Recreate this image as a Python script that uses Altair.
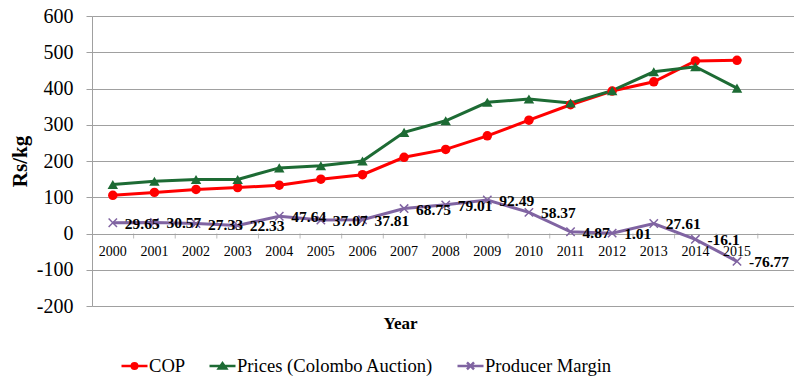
import altair as alt
import pandas as pd

years = list(range(2000, 2016))
series_names = ["COP", "Prices (Colombo Auction)", "Producer Margin"]
cop = [105.35, 113.43, 121.67, 126.67, 133.36, 149.93, 162.19, 210.25,
       231.99, 269.51, 312.63, 355.13, 392.99, 418.39, 476.1, 477.77]
prices = [135, 144, 149, 149, 181, 187, 200, 279,
          311, 362, 371, 360, 394, 446, 460, 401]
margin = [29.65, 30.57, 27.33, 22.33, 47.64, 37.07, 37.81, 68.75,
          79.01, 92.49, 58.37, 4.87, 1.01, 27.61, -16.1, -76.77]
margin_labels = ["29.65", "30.57", "27.33", "22.33", "47.64", "37.07", "37.81", "68.75",
                 "79.01", "92.49", "58.37", "4.87", "1.01", "27.61", "-16.1", "-76.77"]
y_ticks = [-200, -100, 0, 100, 200, 300, 400, 500, 600]

colors = ["#ff0000", "#1d6b34", "#8064a2"]
FONT = "Liberation Serif"
GRID = "#a0a0a0"

rows = []
for name, vals in zip(series_names, [cop, prices, margin]):
    for yr, v in zip(years, vals):
        rows.append({"year": yr, "series": name, "value": v})
df = pd.DataFrame(rows)
lab_df = pd.DataFrame({"year": years, "value": margin, "label": margin_labels})
yr_df = pd.DataFrame({"year": years})

xscale = alt.Scale(domain=[1999.5, 2016.37], nice=False, zero=False)
yscale = alt.Scale(domain=[-200, 600], nice=False)

xaxis = alt.Axis(title="Year", labels=False, ticks=False, domain=False, grid=False,
                 titleFont=FONT, titleFontSize=17, titleFontWeight="bold",
                 titleColor="black", titleX=308, titleY=17, titleBaseline="middle")
yaxis = alt.Axis(values=y_ticks, title="Rs/kg", grid=True, gridColor=GRID,
                 domainColor=GRID, tickColor=GRID, tickSize=6, labelOverlap=False,
                 labelExpr="'' + datum.value",
                 labelFont=FONT, labelFontSize=20, labelColor="black",
                 labelPadding=13, titleFont=FONT, titleFontSize=21,
                 titleFontWeight="bold", titleColor="black", titlePadding=6)


def X(field):
    return alt.X(field, scale=xscale, axis=xaxis, title="Year")


def Y(field):
    return alt.Y(field, scale=yscale, axis=yaxis, title="Rs/kg")


base = alt.Chart(df).encode(x=X("year:Q"), y=Y("value:Q"))

layers = []
shapes_pts = ["circle", "triangle-up", "M-1,-1L1,1M-1,1L1,-1"]
sizes = [90, 110, 70]
for name, col in zip(series_names, colors):
    sub = base.transform_filter(alt.datum.series == name)
    layers.append(sub.mark_line(color=col, strokeWidth=3))
for name, col, shp, sz in zip(series_names, colors, shapes_pts, sizes):
    sub = base.transform_filter(alt.datum.series == name)
    if name == "Producer Margin":
        layers.append(sub.mark_point(shape=shp, size=sz, filled=False, color=col,
                                     strokeWidth=1.5, opacity=1))
    else:
        layers.append(sub.mark_point(shape=shp, size=sz, filled=True, color=col, opacity=1))

# x-axis ticks at the zero line
ticks = alt.Chart(yr_df).transform_calculate(tx="datum.year + 0.5", ty="0").mark_tick(
    orient="vertical", size=5, thickness=1, color=GRID, yOffset=2.5
).encode(x=X("tx:Q"), y=Y("ty:Q"))
layers.append(ticks)

# year labels below zero line
yr_text = alt.Chart(yr_df).transform_calculate(ty="0").mark_text(
    font=FONT, fontSize=14, color="black", dy=18, baseline="middle"
).encode(x=X("year:Q"), y=Y("ty:Q"), text=alt.Text("year:N"))
layers.append(yr_text)

labels = alt.Chart(lab_df).mark_text(
    font=FONT, fontSize=15.5, fontWeight="bold", color="black", align="left",
    baseline="middle", dx=12, dy=1
).encode(x=X("year:Q"), y=Y("value:Q"), text="label:N")
layers.append(labels)

leg_paths = [
    "M-1,0L1,0M-0.21,0A0.21,0.21,0,1,0,0.21,0A0.21,0.21,0,1,0,-0.21,0Z",
    "M-1,0L1,0M0,-0.22L0.29,0.2L-0.29,0.2Z",
    "M-1,0L1,0M-0.27,-0.27L0.27,0.27M-0.27,0.27L0.27,-0.27",
]
legend = alt.Legend(title=None, orient="none", legendX=28, legendY=335,
                    direction="horizontal", symbolSize=676, symbolStrokeWidth=2.5,
                    symbolOpacity=1, labelFont=FONT, labelFontSize=18.6, labelLimit=0,
                    labelColor="black", labelOffset=0, columnPadding=18)
leg = alt.Chart(df).transform_filter("false").mark_point(filled=True, opacity=1).encode(
    x=X("year:Q"), y=Y("value:Q"),
    fill=alt.Fill("series:N", scale=alt.Scale(domain=series_names, range=colors), legend=legend),
    stroke=alt.Stroke("series:N", scale=alt.Scale(domain=series_names, range=colors), legend=legend),
    shape=alt.Shape("series:N", scale=alt.Scale(domain=series_names, range=leg_paths), legend=legend),
)
layers.append(leg)

chart = alt.layer(*layers).properties(
    width=702, height=290,
    autosize=alt.AutoSizeParams(type="none"),
    padding={"left": 92, "top": 16, "right": 0, "bottom": 74},
).configure_view(stroke=None).configure(background="white").configure_legend(
    labelFont=FONT, labelFontSize=18.6, labelLimit=0, labelColor="black"
)

chart.save("out.html", embed_options={"renderer": "svg", "actions": False})
